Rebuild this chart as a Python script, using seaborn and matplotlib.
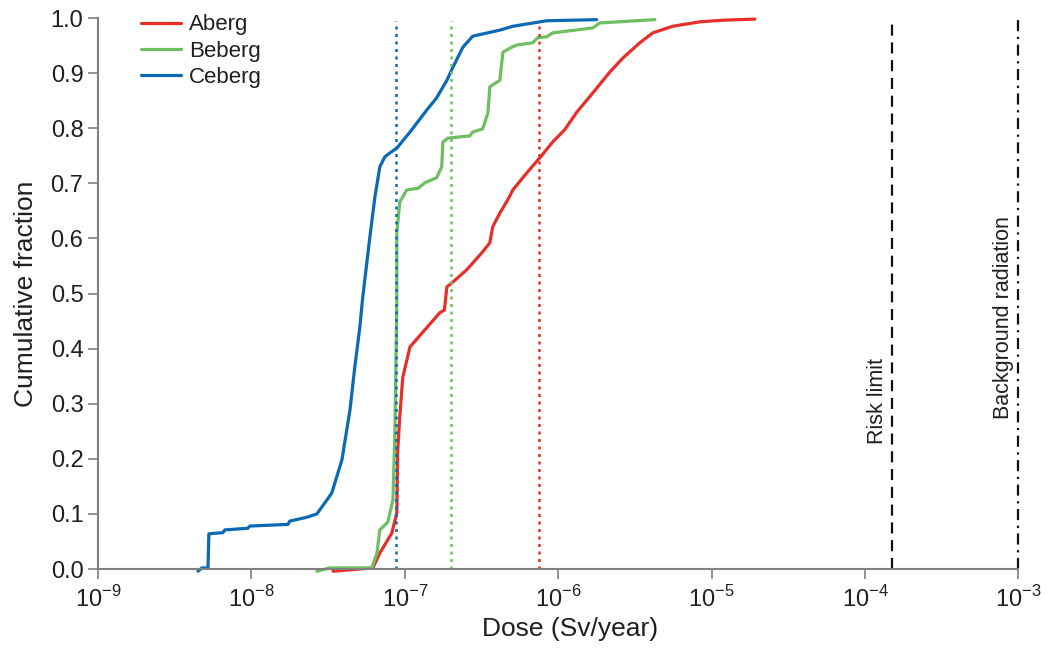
import numpy as np
import pandas as pd
import seaborn as sns
import matplotlib.pyplot as plt


# Cumulative dose distributions
aberg_dose = [3.40e-8, 6.19e-8, 6.87e-8, 8.22e-8, 8.87e-8, 8.99e-8, 9.27e-8, 9.70e-8,
              1.08e-7, 1.31e-7, 1.69e-7, 1.81e-7, 1.88e-7, 2.06e-7, 2.53e-7, 3.18e-7,
              3.58e-7, 3.74e-7, 4.16e-7, 4.69e-7, 5.06e-7, 6.24e-7, 7.57e-7, 9.20e-7,
              1.10e-6, 1.32e-6, 1.68e-6, 2.17e-6, 2.63e-6, 3.40e-6, 4.13e-6, 5.57e-6,
              8.36e-6, 1.18e-5, 1.91e-5]
aberg_frac = [-0.004, 0.002, 0.029, 0.065, 0.102, 0.216, 0.276, 0.348,
              0.403, 0.430, 0.465, 0.470, 0.512, 0.521, 0.543, 0.574,
              0.592, 0.621, 0.646, 0.670, 0.688, 0.719, 0.746, 0.775,
              0.797, 0.829, 0.864, 0.902, 0.927, 0.955, 0.973, 0.985,
              0.993, 0.996, 0.998]

beberg_dose = [2.67e-8, 3.24e-8, 6.10e-8, 6.58e-8, 6.87e-8, 7.74e-8, 8.36e-8, 8.61e-8,
               8.87e-8, 8.87e-8, 9.27e-8, 1.03e-7, 1.22e-7, 1.35e-7, 1.61e-7, 1.74e-7,
               1.77e-7, 1.91e-7, 2.65e-7, 2.77e-7, 3.22e-7, 3.48e-7, 3.58e-7, 4.16e-7,
               4.36e-7, 4.89e-7, 5.37e-7, 6.82e-7, 7.34e-7, 8.41e-7, 9.20e-7, 1.68e-6,
               1.86e-6, 4.26e-6]
beberg_frac = [-0.004, 0.002, 0.002, 0.029, 0.071, 0.085, 0.125, 0.247,
               0.488, 0.610, 0.666, 0.688, 0.691, 0.701, 0.710, 0.730,
               0.775, 0.782, 0.786, 0.793, 0.799, 0.828, 0.875, 0.887,
               0.938, 0.946, 0.951, 0.955, 0.964, 0.966, 0.973, 0.982,
               0.991, 0.997]

ceberg_dose = [4.48e-9, 4.76e-9, 5.21e-9, 5.28e-9, 6.52e-9, 6.71e-9, 9.48e-9, 9.77e-9,
               1.73e-8, 1.78e-8, 2.30e-8, 2.67e-8, 3.10e-8, 3.34e-8, 3.89e-8, 4.39e-8,
               4.72e-8, 5.09e-8, 5.32e-8, 5.92e-8, 6.38e-8, 6.87e-8, 7.41e-8, 7.98e-8,
               8.87e-8, 1.08e-7, 1.39e-7, 1.61e-7, 1.88e-7, 2.06e-7, 2.39e-7, 2.77e-7,
               4.16e-7, 5.06e-7, 8.41e-7, 1.78e-6]
ceberg_frac = [-0.004, 0.002, 0.002, 0.064, 0.066, 0.071, 0.074, 0.078,
               0.081, 0.087, 0.094, 0.100, 0.125, 0.138, 0.198, 0.289,
               0.367, 0.439, 0.494, 0.603, 0.675, 0.730, 0.748, 0.755,
               0.764, 0.793, 0.833, 0.855, 0.887, 0.911, 0.947, 0.967,
               0.978, 0.985, 0.995, 0.997]

series_names = ["Aberg", "Beberg", "Ceberg"]
series_colors = ["#e52f28", "#6dbf60", "#0a6ab4"]

# Mean doses (dotted) and reference levels
mean_dose = [7.5e-7, 2.0e-7, 8.7e-8]
risk_limit = 1.5e-4
background = 1.0e-3

x_ticks = [1e-9, 1e-8, 1e-7, 1e-6, 1e-5, 1e-4, 1e-3]
x_labels = ["10$^{\\mathregular{-%d}}$" % k for k in [9, 8, 7, 6, 5, 4, 3]]
y_ticks = [0.0, 0.1, 0.2, 0.3, 0.4, 0.5, 0.6, 0.7, 0.8, 0.9, 1.0]


df = pd.concat([
    pd.DataFrame({"dose": aberg_dose, "frac": aberg_frac, "site": "Aberg"}),
    pd.DataFrame({"dose": beberg_dose, "frac": beberg_frac, "site": "Beberg"}),
    pd.DataFrame({"dose": ceberg_dose, "frac": ceberg_frac, "site": "Ceberg"}),
], ignore_index=True)


sns.set_style("ticks")
plt.rcParams["font.family"] = ["Liberation Sans", "DejaVu Sans"]
plt.rcParams["mathtext.fontset"] = "custom"
plt.rcParams["mathtext.rm"] = "Liberation Sans"

fig = plt.figure(figsize=(10.46, 6.57), dpi=100)
ax = fig.add_axes([0.0937, 0.1339, 0.8800, 0.8387])

sns.lineplot(data=df, x="dose", y="frac", hue="site", hue_order=series_names,
             palette=series_colors, sort=False, estimator=None, linewidth=2.3,
             ax=ax, clip_on=False)

# mean dose lines
for d, c in zip(mean_dose, series_colors):
    ax.plot([d, d], [0, 0.995], color=c, linestyle=(0, (1.2, 1.8)), linewidth=1.8)

ax.plot([risk_limit, risk_limit], [0, 0.99], color="#111111", linewidth=1.6,
        linestyle=(0, (5, 3)))
ax.plot([background, background], [0, 1], color="#111111", linewidth=1.6,
        linestyle=(0, (5, 2.5, 1, 2.5)), clip_on=False)

ax.text(risk_limit / 1.06, 0.227, "Risk limit", rotation=90, ha="right", va="bottom",
        fontsize=15.5, color="#231f20")
ax.text(background / 1.07, 0.272, "Background radiation", rotation=90, ha="right",
        va="bottom", fontsize=15.5, color="#231f20")

ax.set_xscale("log")
ax.set_xlim(1e-9, 1e-3)
ax.set_ylim(0, 1.0)
ax.set_xticks(x_ticks)
ax.set_xticklabels(x_labels)
ax.xaxis.set_minor_locator(plt.NullLocator())
ax.set_yticks(y_ticks)
ax.set_yticklabels(["%.1f" % v for v in y_ticks])

ax.set_xlabel("Dose (Sv/year)", fontsize=19, color="#231f20", labelpad=4)
ax.xaxis.label.set_x(0.513)
ax.set_ylabel("Cumulative fraction", fontsize=19, color="#231f20", labelpad=9)
ax.tick_params(axis="both", labelsize=17, colors="#808080", labelcolor="#231f20",
               length=7, width=1.2, direction="out")
ax.tick_params(axis="x", pad=5)

for side in ["top", "right"]:
    ax.spines[side].set_visible(False)
for side in ["left", "bottom"]:
    ax.spines[side].set_color("#808080")
    ax.spines[side].set_linewidth(1.5)

leg = ax.legend(loc="upper left", bbox_to_anchor=(0.025, 1.043), frameon=False,
                fontsize=16, handlelength=1.8, handletextpad=0.35, labelspacing=0.24)
for h in leg.get_lines():
    h.set_linewidth(2.3)
for t in leg.get_texts():
    t.set_color("#231f20")

fig.savefig("out.png", dpi=100)
